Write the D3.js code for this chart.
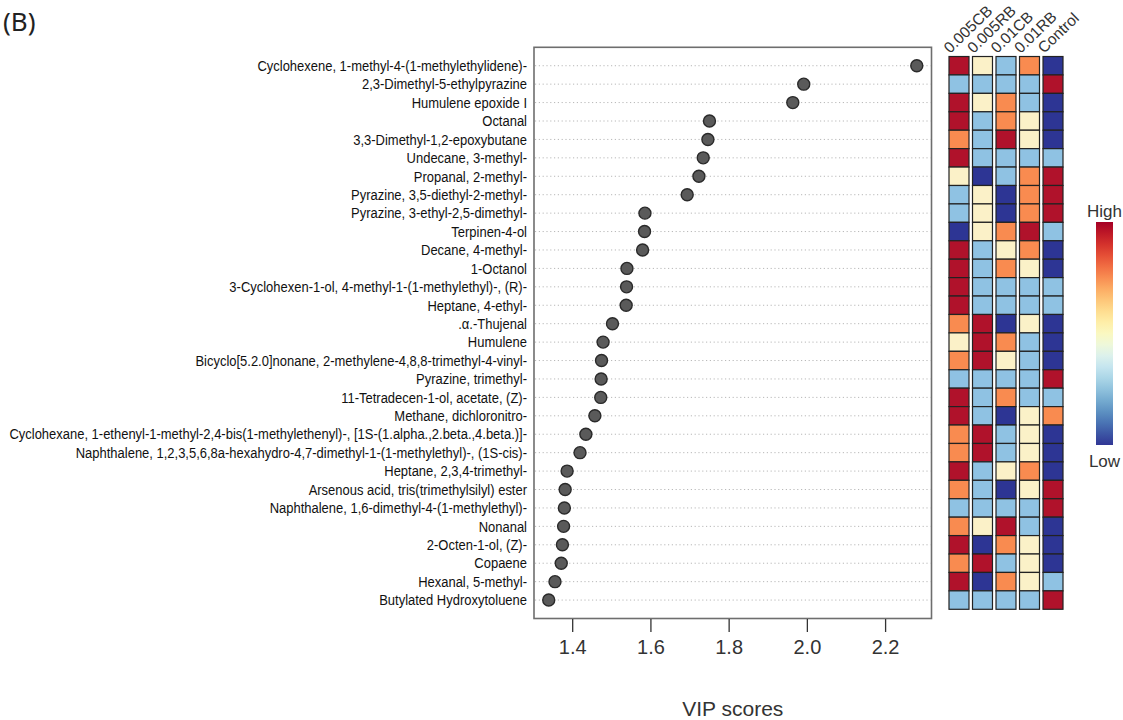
<!DOCTYPE html>
<html>
<head>
<meta charset="utf-8">
<script src="https://cdn.jsdelivr.net/npm/d3@7"></script>
<style>
  html, body { margin: 0; padding: 0; background: #fff; }
  svg { display: block; }
</style>
</head>
<body>
<svg id="chart" width="1123" height="720"></svg>
<script>
// ---------------- data ----------------
const compounds = [
  "Cyclohexene, 1-methyl-4-(1-methylethylidene)-",
  "2,3-Dimethyl-5-ethylpyrazine",
  "Humulene epoxide I",
  "Octanal",
  "3,3-Dimethyl-1,2-epoxybutane",
  "Undecane, 3-methyl-",
  "Propanal, 2-methyl-",
  "Pyrazine, 3,5-diethyl-2-methyl-",
  "Pyrazine, 3-ethyl-2,5-dimethyl-",
  "Terpinen-4-ol",
  "Decane, 4-methyl-",
  "1-Octanol",
  "3-Cyclohexen-1-ol, 4-methyl-1-(1-methylethyl)-, (R)-",
  "Heptane, 4-ethyl-",
  ".\u03b1.-Thujenal",
  "Humulene",
  "Bicyclo[5.2.0]nonane, 2-methylene-4,8,8-trimethyl-4-vinyl-",
  "Pyrazine, trimethyl-",
  "11-Tetradecen-1-ol, acetate, (Z)-",
  "Methane, dichloronitro-",
  "Cyclohexane, 1-ethenyl-1-methyl-2,4-bis(1-methylethenyl)-, [1S-(1.alpha.,2.beta.,4.beta.)]-",
  "Naphthalene, 1,2,3,5,6,8a-hexahydro-4,7-dimethyl-1-(1-methylethyl)-, (1S-cis)-",
  "Heptane, 2,3,4-trimethyl-",
  "Arsenous acid, tris(trimethylsilyl) ester",
  "Naphthalene, 1,6-dimethyl-4-(1-methylethyl)-",
  "Nonanal",
  "2-Octen-1-ol, (Z)-",
  "Copaene",
  "Hexanal, 5-methyl-",
  "Butylated Hydroxytoluene"
];

const vipScores = [
  2.281, 1.992, 1.964, 1.751, 1.747, 1.735, 1.724, 1.694, 1.586, 1.585,
  1.580, 1.540, 1.539, 1.538, 1.503, 1.479, 1.475, 1.474, 1.473, 1.458,
  1.435, 1.420, 1.387, 1.382, 1.380, 1.378, 1.375, 1.372, 1.356, 1.340
];

const groups = ["0.005CB", "0.005RB", "0.01CB", "0.01RB", "Control"];

// relative abundance level per group (1 = low ... 5 = high)
const level005CB = [5,2,5,5,4,5,3,2,2,1,5,5,5,5,4,3,4,2,5,5,4,4,5,4,2,4,5,4,5,2];
const level005RB = [3,2,3,2,2,2,1,3,3,3,2,2,2,2,5,5,5,2,2,2,5,5,2,2,2,3,1,5,1,2];
const level01CB  = [2,2,4,4,5,2,2,1,1,4,3,4,2,2,1,4,3,2,4,1,2,2,3,1,2,5,4,2,4,2];
const level01RB  = [4,2,2,3,3,2,4,4,4,5,4,3,2,2,3,2,2,2,2,3,3,3,4,3,2,2,3,3,3,2];
const levelCtrl  = [1,5,1,1,1,2,5,5,5,2,1,1,2,2,1,1,1,5,2,4,1,1,1,5,5,1,1,1,2,5];

const xTicks = [1.4, 1.6, 1.8, 2.0, 2.2];
const legendLabels = ["High", "Low"];

// ---------------- drawing ----------------
const svg = d3.select("#chart");
const levelsByGroup = [level005CB, level005RB, level01CB, level01RB, levelCtrl];
const levelColors = ["#2d3594", "#8fc2e3", "#fbf1c8", "#f98b50", "#b0122b"];
const levelColor = d3.scaleOrdinal().domain([1,2,3,4,5]).range(levelColors);

const plot = { left: 534, right: 931.5, top: 47.3, bottom: 618.5 };

// R-style 4% extension of the data range
const ext = d3.extent(vipScores);
const pad = (ext[1] - ext[0]) * 0.04;
const x = d3.scaleLinear().domain([ext[0] - pad, ext[1] + pad]).range([plot.left, plot.right]);
const y = d3.scalePoint().domain(compounds).range([plot.top, plot.bottom]).padding(1);
const step = y.step();

// panel tag
svg.append("text").attr("x", 3).attr("y", 31)
  .attr("font-family", "Noto Sans, DejaVu Sans, sans-serif")
  .attr("font-size", 26).attr("fill", "#222").text("(B)");

// dotted guide lines
svg.append("g").selectAll("line").data(compounds).join("line")
  .attr("x1", plot.left + 1).attr("x2", plot.right - 1)
  .attr("y1", d => y(d)).attr("y2", d => y(d))
  .attr("stroke", "#b8b8b8").attr("stroke-width", 1)
  .attr("stroke-dasharray", "1.2,2.6");

// plot box
svg.append("rect")
  .attr("x", plot.left).attr("y", plot.top)
  .attr("width", plot.right - plot.left).attr("height", plot.bottom - plot.top)
  .attr("fill", "none").attr("stroke", "#6e6e6e").attr("stroke-width", 1.6);

// points
svg.append("g").selectAll("circle").data(compounds).join("circle")
  .attr("cx", (d, i) => x(vipScores[i]))
  .attr("cy", d => y(d))
  .attr("r", 6)
  .attr("fill", "#5a5a5a").attr("stroke", "#2a2a2a").attr("stroke-width", 1.4);

// compound labels (condensed)
const labelG = svg.append("g");
const labelRight = 527;
const labels = labelG.selectAll("text").data(compounds).join("text")
  .attr("font-family", "Liberation Sans Narrow, Liberation Sans, Arial, sans-serif")
  .attr("font-size", 14.5)
  .attr("fill", "#111")
  .attr("text-anchor", "end")
  .attr("dominant-baseline", "central")
  .text(d => d);
const widths = labels.nodes().map(n => n.getComputedTextLength());
const longest = d3.max(widths);
const k = longest > 0 ? 518 / longest : 1;
labels.attr("transform", d => `translate(${labelRight},${y(d) + 0.5}) scale(${k},1)`);

// x axis
const xAxis = d3.axisBottom(x).tickValues(xTicks).tickFormat(d3.format(".1f"))
  .tickSize(13).tickPadding(8);
const axG = svg.append("g").attr("transform", `translate(0,${plot.bottom + 0.5})`).call(xAxis);
axG.select(".domain").remove();
axG.selectAll(".tick line").attr("stroke", "#333").attr("stroke-width", 1.3);
axG.selectAll(".tick text")
  .attr("font-family", "Liberation Sans, Arial, sans-serif")
  .attr("font-size", 20).attr("fill", "#333");

svg.append("text")
  .attr("x", (plot.left + plot.right) / 2).attr("y", 716)
  .attr("text-anchor", "middle")
  .attr("font-family", "Liberation Sans, Arial, sans-serif")
  .attr("font-size", 21).attr("fill", "#333")
  .text("VIP scores");

// heatmap
const xc = d3.scaleBand().domain(groups).range([949, 1063]).paddingInner(0.15).paddingOuter(0);
const hm = svg.append("g");
groups.forEach((g, gi) => {
  hm.append("g").selectAll("rect").data(compounds).join("rect")
    .attr("x", xc(g)).attr("width", xc.bandwidth())
    .attr("y", d => y(d) - step / 2).attr("height", step)
    .attr("fill", (d, i) => levelColor(levelsByGroup[gi][i]))
    .attr("stroke", "#222").attr("stroke-width", 1.2);
});

// group labels
svg.append("g").selectAll("text").data(groups).join("text")
  .attr("transform", d => `translate(${xc(d) + 1},${54}) rotate(-44)`)
  .attr("font-family", "Liberation Sans, Arial, sans-serif")
  .attr("font-size", 15.5).attr("fill", "#333")
  .text(d => d);

// colour legend
const defs = svg.append("defs");
const grad = defs.append("linearGradient").attr("id", "hl")
  .attr("x1", 0).attr("y1", 0).attr("x2", 0).attr("y2", 1);
d3.range(0, 1.0001, 0.05).forEach(t => {
  grad.append("stop").attr("offset", t).attr("stop-color", d3.interpolateRdYlBu(t));
});
const leg = { x: 1096, y0: 222, y1: 445, w: 17 };
svg.append("rect").attr("x", leg.x).attr("y", leg.y0)
  .attr("width", leg.w).attr("height", leg.y1 - leg.y0)
  .attr("fill", "url(#hl)");
svg.append("text").attr("x", leg.x + leg.w / 2).attr("y", 217)
  .attr("text-anchor", "middle")
  .attr("font-family", "Liberation Sans, Arial, sans-serif")
  .attr("font-size", 17).attr("fill", "#333").text(legendLabels[0]);
svg.append("text").attr("x", leg.x + leg.w / 2).attr("y", 467)
  .attr("text-anchor", "middle")
  .attr("font-family", "Liberation Sans, Arial, sans-serif")
  .attr("font-size", 17).attr("fill", "#333").text(legendLabels[1]);
</script>
</body>
</html>
